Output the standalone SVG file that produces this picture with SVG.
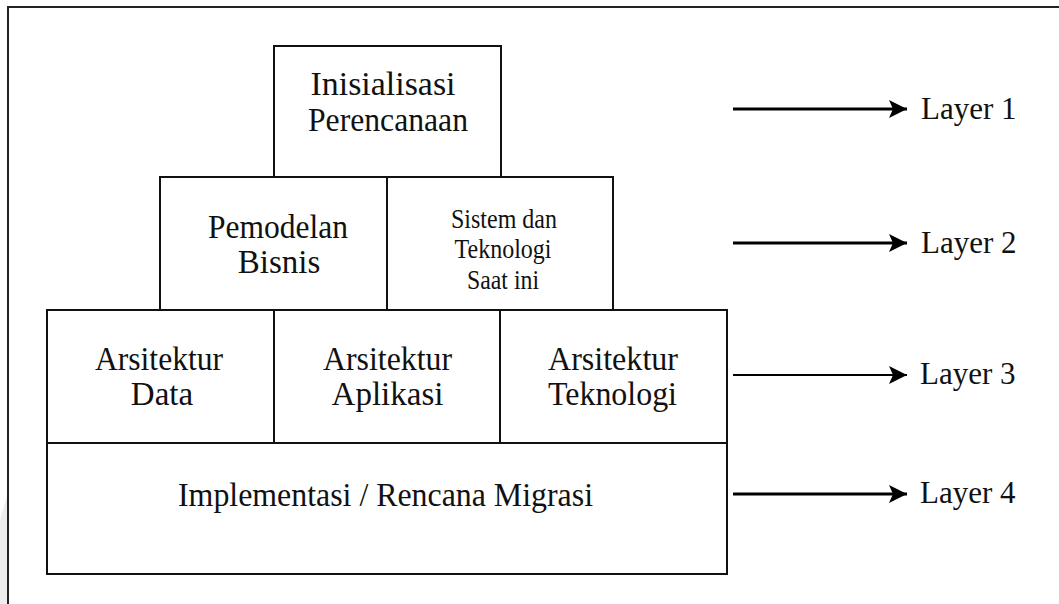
<svg xmlns="http://www.w3.org/2000/svg" width="1059" height="604" viewBox="0 0 1059 604">
<style>
.box{fill:#fff;stroke:#111;stroke-width:2}
.t{font-family:"Liberation Serif","Times New Roman",serif;font-size:33px;fill:#111;text-anchor:middle}
.s{font-size:27px}
.lt{font-family:"Liberation Serif","Times New Roman",serif;font-size:31px;fill:#111}
.ar{stroke:#000;stroke-width:3;fill:none}
.ar.thin{stroke-width:2}
</style>
<defs>
<marker id="ah" markerWidth="20" markerHeight="20" refX="18" refY="9" orient="auto" markerUnits="userSpaceOnUse">
<path d="M0,0 L18,9 L0,18 L4,9 Z" fill="#000"/>
</marker>
</defs>
<rect width="1059" height="604" fill="#fff"/>
<polygon points="0,520 8,492 8,604 0,604" fill="#ededed"/>
<path d="M8,604 L8,7 L1059,7" fill="none" stroke="#222" stroke-width="2"/>

<g id="n-inisialisasi">
<rect class="box" x="274" y="46" width="227" height="131"/>
<text class="t" x="383" y="95" textLength="145" lengthAdjust="spacingAndGlyphs">Inisialisasi</text>
<text class="t" x="388" y="131" textLength="160" lengthAdjust="spacingAndGlyphs">Perencanaan</text>
</g>
<g id="n-pemodelan">
<rect class="box" x="160" y="177" width="227" height="133"/>
<text class="t" x="278" y="238" textLength="140" lengthAdjust="spacingAndGlyphs">Pemodelan</text>
<text class="t" x="279" y="273">Bisnis</text>
</g>
<g id="n-sistem">
<rect class="box" x="387" y="177" width="226" height="133"/>
<text class="t s" x="504" y="228" textLength="106" lengthAdjust="spacingAndGlyphs">Sistem dan</text>
<text class="t s" x="503" y="258" textLength="97" lengthAdjust="spacingAndGlyphs">Teknologi</text>
<text class="t s" x="503" y="289" textLength="72" lengthAdjust="spacingAndGlyphs">Saat ini</text>
</g>
<g id="n-data">
<rect class="box" x="47" y="310" width="227" height="133"/>
<text class="t" x="159" y="370" textLength="128" lengthAdjust="spacingAndGlyphs">Arsitektur</text>
<text class="t" x="162" y="405">Data</text>
</g>
<g id="n-aplikasi">
<rect class="box" x="274" y="310" width="226" height="133"/>
<text class="t" x="387.5" y="370" textLength="129" lengthAdjust="spacingAndGlyphs">Arsitektur</text>
<text class="t" x="387.5" y="405">Aplikasi</text>
</g>
<g id="n-teknologi">
<rect class="box" x="500" y="310" width="227" height="133"/>
<text class="t" x="613" y="370" textLength="130" lengthAdjust="spacingAndGlyphs">Arsitektur</text>
<text class="t" x="612.5" y="405" textLength="129" lengthAdjust="spacingAndGlyphs">Teknologi</text>
</g>
<g id="n-implementasi">
<rect class="box" x="47" y="443" width="680" height="131"/>
<text class="t" x="385.5" y="506" textLength="415" lengthAdjust="spacingAndGlyphs">Implementasi / Rencana Migrasi</text>
</g>

<g id="connectors">
<line class="ar" x1="733" y1="109" x2="907" y2="109" marker-end="url(#ah)"/>
<line class="ar" x1="733" y1="243" x2="907" y2="243" marker-end="url(#ah)"/>
<line class="ar thin" x1="733" y1="375" x2="907" y2="375" marker-end="url(#ah)"/>
<line class="ar" x1="733" y1="494" x2="907" y2="494" marker-end="url(#ah)"/>
</g>

<g id="labels">
<text class="lt" x="921" y="119">Layer 1</text>
<text class="lt" x="921" y="253">Layer 2</text>
<text class="lt" x="920" y="384">Layer 3</text>
<text class="lt" x="920" y="503">Layer 4</text>
</g>
</svg>
